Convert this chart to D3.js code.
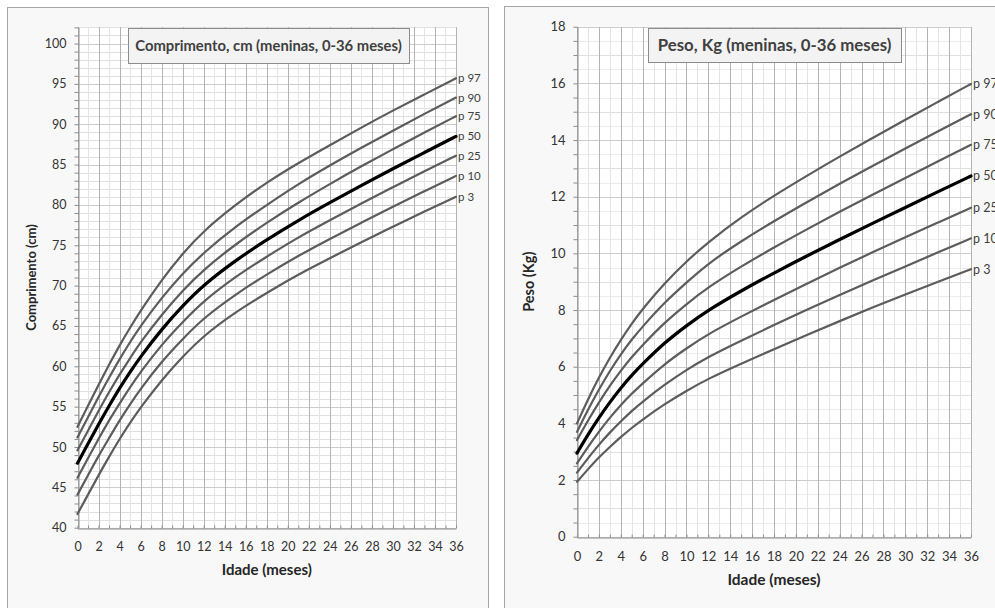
<!DOCTYPE html>
<html>
<head>
<meta charset="utf-8">
<script src="https://cdn.jsdelivr.net/npm/d3@7"></script>
<style>
  body { margin: 0; background: #ffffff; }
  svg { display: block; font-family: Lato, "Open Sans", sans-serif; }
</style>
</head>
<body>
<svg id="chart" width="995" height="608"></svg>
<script>
// Age in months at which each percentile value is given
const months = [0, 1, 2, 3, 4, 5, 6, 8, 10, 12, 15, 18, 21, 24, 27, 30, 33, 36];
const percentileNames = ["p 3", "p 10", "p 25", "p 50", "p 75", "p 90", "p 97"];

// Length (cm), girls 0-36 months
const lengthP3  = [41.7, 44.1, 46.5, 48.8, 51.0, 53.0, 54.9, 58.3, 61.2, 63.8, 66.7, 69.1, 71.4, 73.4, 75.4, 77.3, 79.2, 81.0];
const lengthP10 = [44.1, 46.5, 48.9, 51.1, 53.3, 55.3, 57.2, 60.6, 63.4, 66.0, 68.9, 71.4, 73.7, 75.8, 77.8, 79.8, 81.7, 83.6];
const lengthP25 = [46.2, 48.6, 51.0, 53.3, 55.4, 57.4, 59.3, 62.7, 65.5, 68.1, 71.1, 73.6, 76.0, 78.1, 80.2, 82.2, 84.2, 86.1];
const lengthP50 = [48.0, 50.4, 52.8, 55.1, 57.3, 59.3, 61.2, 64.6, 67.5, 70.1, 73.1, 75.7, 78.1, 80.3, 82.4, 84.5, 86.5, 88.5];
const lengthP75 = [49.6, 52.0, 54.5, 56.8, 59.0, 61.0, 63.0, 66.4, 69.4, 72.0, 75.1, 77.8, 80.3, 82.6, 84.8, 86.9, 89.0, 91.0];
const lengthP90 = [51.2, 53.7, 56.2, 58.6, 60.9, 63.0, 65.0, 68.5, 71.5, 74.1, 77.3, 80.0, 82.6, 84.9, 87.1, 89.2, 91.3, 93.3];
const lengthP97 = [52.5, 55.1, 57.7, 60.2, 62.6, 64.8, 66.9, 70.7, 74.0, 76.8, 80.0, 82.8, 85.2, 87.4, 89.6, 91.7, 93.7, 95.7];

// Weight (kg), girls 0-36 months
const weightP3  = [1.94, 2.38, 2.80, 3.17, 3.52, 3.84, 4.14, 4.68, 5.15, 5.58, 6.11, 6.62, 7.12, 7.61, 8.09, 8.55, 9.00, 9.44];
const weightP10 = [2.26, 2.77, 3.25, 3.68, 4.07, 4.44, 4.77, 5.37, 5.89, 6.35, 6.92, 7.47, 8.01, 8.53, 9.04, 9.54, 10.04, 10.53];
const weightP25 = [2.59, 3.17, 3.71, 4.20, 4.65, 5.05, 5.41, 6.10, 6.65, 7.16, 7.77, 8.36, 8.93, 9.49, 10.04, 10.57, 11.09, 11.61];
const weightP50 = [2.95, 3.60, 4.20, 4.75, 5.25, 5.70, 6.10, 6.85, 7.45, 8.00, 8.68, 9.31, 9.91, 10.49, 11.06, 11.62, 12.18, 12.73];
const weightP75 = [3.41, 4.10, 4.74, 5.33, 5.86, 6.34, 6.77, 7.56, 8.21, 8.81, 9.54, 10.21, 10.85, 11.47, 12.07, 12.66, 13.25, 13.83];
const weightP90 = [3.70, 4.48, 5.20, 5.85, 6.44, 6.96, 7.42, 8.27, 8.97, 9.65, 10.43, 11.14, 11.81, 12.46, 13.09, 13.70, 14.31, 14.91];
const weightP97 = [4.00, 4.85, 5.62, 6.32, 6.95, 7.52, 8.04, 8.95, 9.72, 10.40, 11.28, 12.04, 12.74, 13.42, 14.07, 14.72, 15.35, 15.98];

// Axis ticks
const monthTicks = d3.range(0, 37, 2);
const lengthTicks = d3.range(40, 101, 5);
const weightTicks = d3.range(0, 19, 2);

const svg = d3.select("#chart");

function drawChart(cfg) {
  const g = svg.append("g");

  // panel frame
  g.append("rect")
    .attr("x", cfg.panel.x + 0.5).attr("y", cfg.panel.y + 0.5)
    .attr("width", cfg.panel.w).attr("height", cfg.panel.h)
    .attr("fill", "#f8f8f8").attr("stroke", "#a6a6a6");

  const x = d3.scaleLinear().domain(cfg.xDomain).range([cfg.plot.left, cfg.plot.right]);
  const y = d3.scaleLinear().domain(cfg.yDomain).range([cfg.plot.bottom, cfg.plot.top]);

  // plot background
  g.append("rect")
    .attr("x", x(cfg.xDomain[0])).attr("y", y(cfg.yDomain[1]))
    .attr("width", x(cfg.xDomain[1]) - x(cfg.xDomain[0]))
    .attr("height", y(cfg.yDomain[0]) - y(cfg.yDomain[1]))
    .attr("fill", "#ffffff");

  const grid = g.append("g").attr("shape-rendering", "crispEdges");
  const yMinor = d3.range(cfg.yDomain[0], cfg.yDomain[1] + 1e-9, cfg.yMinorStep);
  const yMid = d3.range(cfg.yDomain[0], cfg.yDomain[1] + 1e-9, cfg.yMidStep);
  const xAll = d3.range(cfg.xDomain[0], cfg.xDomain[1] + 1, 1);
  const px = v => Math.round(v) + 0.5;

  grid.selectAll(".hmin").data(yMinor).join("line")
    .attr("x1", x(cfg.xDomain[0])).attr("x2", x(cfg.xDomain[1]))
    .attr("y1", d => px(y(d))).attr("y2", d => px(y(d)))
    .attr("stroke", "#ececec");
  grid.selectAll(".hmid").data(yMid).join("line")
    .attr("x1", x(cfg.xDomain[0])).attr("x2", x(cfg.xDomain[1]))
    .attr("y1", d => px(y(d))).attr("y2", d => px(y(d)))
    .attr("stroke", "#e0e0e0");
  grid.selectAll(".vmin").data(xAll.filter(d => d % 2 === 1)).join("line")
    .attr("x1", d => px(x(d))).attr("x2", d => px(x(d)))
    .attr("y1", y(cfg.yDomain[0])).attr("y2", y(cfg.yDomain[1]))
    .attr("stroke", "#e4e4e4");
  grid.selectAll(".hmaj").data(cfg.yTicks).join("line")
    .attr("x1", x(cfg.xDomain[0])).attr("x2", x(cfg.xDomain[1]))
    .attr("y1", d => px(y(d))).attr("y2", d => px(y(d)))
    .attr("stroke", "#cccccc");
  grid.selectAll(".vmaj").data(monthTicks).join("line")
    .attr("x1", d => px(x(d))).attr("x2", d => px(x(d)))
    .attr("y1", y(cfg.yDomain[0])).attr("y2", y(cfg.yDomain[1]))
    .attr("stroke", "#b3b3b3");

  // axes
  const isMajorY = d => cfg.yTicks.some(t => Math.abs(t - d) < 1e-9);
  const yAxis = d3.axisLeft(y)
    .tickValues(yMinor)
    .tickSizeInner(4).tickSizeOuter(0).tickPadding(8)
    .tickFormat(d => isMajorY(d) ? d3.format("d")(d) : "");
  const yAx = g.append("g")
    .attr("transform", `translate(${px(x(cfg.xDomain[0]))},0)`)
    .call(yAxis);

  const xAxis = d3.axisBottom(x)
    .tickValues(xAll)
    .tickSizeInner(-3).tickSizeOuter(0).tickPadding(14)
    .tickFormat(d => d % 2 === 0 ? d : "");
  const xAx = g.append("g")
    .attr("transform", `translate(0,${px(y(cfg.yDomain[0]))})`)
    .call(xAxis);

  [yAx, xAx].forEach(a => {
    a.select(".domain").attr("stroke", "#8c8c8c");
    a.selectAll(".tick line").attr("stroke", "#8c8c8c");
    a.selectAll(".tick text").attr("fill", "#333333")
      .style("font-size", cfg.tickSize + "px")
      .style("font-family", "Lato, 'Open Sans', sans-serif");
  });

  // percentile curves
  const line = d3.line()
    .x(d => x(d.m)).y(d => y(d.v))
    .curve(d3.curveBasis);

  cfg.series.forEach((vals, i) => {
    const pts = months.map((m, k) => ({ m: m, v: vals[k] }));
    const isMedian = percentileNames[i] === "p 50";
    g.append("path")
      .datum(pts)
      .attr("d", line)
      .attr("fill", "none")
      .attr("stroke", isMedian ? "#000000" : "#5c5c5c")
      .attr("stroke-width", isMedian ? 3.2 : 2.2)
      .attr("stroke-linecap", "round");
    const last = pts[pts.length - 1];
    g.append("text")
      .attr("x", x(last.m) + 2)
      .attr("y", y(last.v))
      .attr("dy", "0.35em")
      .attr("fill", "#404040")
      .style("font-size", cfg.labelSize + "px")
      .text(percentileNames[i]);
  });

  // title box
  g.append("rect")
    .attr("x", cfg.titleBox.x + 0.5).attr("y", cfg.titleBox.y + 0.5)
    .attr("width", cfg.titleBox.w).attr("height", cfg.titleBox.h)
    .attr("fill", "#f3f3f3").attr("stroke", "#8c8c8c");
  g.append("text")
    .attr("x", cfg.titleBox.x + cfg.titleBox.w / 2)
    .attr("y", cfg.titleBox.y + cfg.titleBox.h / 2)
    .attr("dy", "0.35em")
    .attr("text-anchor", "middle")
    .attr("fill", "#404040")
    .style("font-size", cfg.titleSize + "px")
    .style("font-weight", "bold")
    .text(cfg.title);

  // axis titles
  g.append("text")
    .attr("transform", `translate(${cfg.yTitleX},${(cfg.plot.top + cfg.plot.bottom) / 2}) rotate(-90)`)
    .attr("text-anchor", "middle").attr("dy", "0.35em")
    .attr("fill", "#262626")
    .style("font-size", cfg.yTitleSize + "px").style("font-weight", "bold")
    .text(cfg.yTitle);
  g.append("text")
    .attr("x", (cfg.plot.left + cfg.plot.right) / 2)
    .attr("y", cfg.xTitleY)
    .attr("text-anchor", "middle").attr("dy", "0.35em")
    .attr("fill", "#262626")
    .style("font-size", cfg.xTitleSize + "px").style("font-weight", "bold")
    .text("Idade (meses)");
}

drawChart({
  panel: { x: 7, y: 7, w: 481, h: 620 },
  plot: { left: 77.5, right: 456, top: 27.4, bottom: 527.7 },
  xDomain: [0, 36],
  yDomain: [40, 102],
  yTicks: lengthTicks,
  yMinorStep: 1,
  yMidStep: 1,
  series: [lengthP3, lengthP10, lengthP25, lengthP50, lengthP75, lengthP90, lengthP97],
  title: "Comprimento, cm (meninas, 0-36 meses)",
  titleSize: 14.8,
  titleBox: { x: 128, y: 28, w: 281, h: 35 },
  tickSize: 12.5,
  labelSize: 11.5,
  yTitle: "Comprimento (cm)",
  yTitleSize: 13,
  yTitleX: 31,
  xTitleSize: 15,
  xTitleY: 570
});

drawChart({
  panel: { x: 504, y: 6, w: 520, h: 620 },
  plot: { left: 577, right: 971, top: 26.7, bottom: 536.7 },
  xDomain: [0, 36],
  yDomain: [0, 18],
  yTicks: weightTicks,
  yMinorStep: 0.5,
  yMidStep: 1,
  series: [weightP3, weightP10, weightP25, weightP50, weightP75, weightP90, weightP97],
  title: "Peso, Kg (meninas, 0-36 meses)",
  titleSize: 16.8,
  titleBox: { x: 648, y: 28, w: 253, h: 34 },
  tickSize: 13,
  labelSize: 12.5,
  yTitle: "Peso (Kg)",
  yTitleSize: 14.5,
  yTitleX: 529,
  xTitleSize: 15.5,
  xTitleY: 580
});
</script>
</body>
</html>
